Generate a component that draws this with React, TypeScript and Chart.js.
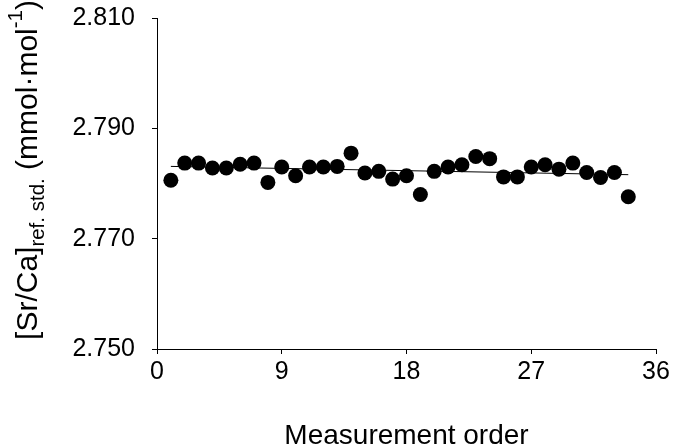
import React, { useEffect, useRef } from "react";
import { Chart, registerables } from "chart.js";

Chart.register(...registerables);

const measurementOrder = [
  1, 2, 3, 4, 5, 6, 7, 8, 9, 10, 11, 12, 13, 14, 15, 16, 17,
  18, 19, 20, 21, 22, 23, 24, 25, 26, 27, 28, 29, 30, 31, 32, 33, 34,
];
const srCaValues = [
  2.7806, 2.7837, 2.7837, 2.7828, 2.7828, 2.7835, 2.7837, 2.7802, 2.783,
  2.7814, 2.783, 2.783, 2.7831, 2.7855, 2.7819, 2.7822, 2.7808, 2.7814,
  2.778, 2.7822, 2.783, 2.7834, 2.7849, 2.7845, 2.7812, 2.7812, 2.783,
  2.7834, 2.7826, 2.7837, 2.782, 2.7811, 2.782, 2.7776,
];
const trendOrder = [1, 34];
const trendValues = [2.7831, 2.7816];
const yTickValues = [2.75, 2.77, 2.79, 2.81];
const xTickValues = [0, 9, 18, 27, 36];

const xTitle = "Measurement order";
const yTitleMain = "[Sr/Ca]";
const yTitleSub = "ref. std.";
const yTitleUnit = " (mmol·mol";
const yTitleSup = "-1";
const yTitleClose = ")";

const FONT = '"Liberation Sans", Arial, Helvetica, sans-serif';

const titlePlugin = {
  id: "axisTitles",
  afterDraw(chart: any) {
    const ctx = chart.ctx as CanvasRenderingContext2D;
    const area = chart.chartArea;
    ctx.save();
    ctx.fillStyle = "#000";
    ctx.textBaseline = "alphabetic";
    ctx.textAlign = "center";
    ctx.font = `28px ${FONT}`;
    ctx.fillText(xTitle, (area.left + area.right) / 2, 444);

    const mainF = `30px ${FONT}`;
    const smallF = `20.5px ${FONT}`;
    const segs: { t: string; f: string; dy: number; w?: number }[] = [
      { t: yTitleMain, f: mainF, dy: 0 },
      { t: yTitleSub, f: smallF, dy: 7 },
      { t: yTitleUnit, f: mainF, dy: 0 },
      { t: yTitleSup, f: smallF, dy: -15 },
      { t: yTitleClose, f: mainF, dy: 0 },
    ];
    let total = 0;
    for (const s of segs) {
      ctx.font = s.f;
      s.w = ctx.measureText(s.t).width;
      total += s.w;
    }
    ctx.translate(37, 170);
    ctx.rotate(-Math.PI / 2);
    ctx.textAlign = "left";
    let x = -total / 2;
    for (const s of segs) {
      ctx.font = s.f;
      ctx.fillText(s.t, x, s.dy);
      x += s.w as number;
    }
    ctx.restore();
  },
};

export default function App() {
  const ref = useRef<HTMLCanvasElement | null>(null);

  useEffect(() => {
    if (!ref.current) return;
    const chart = new Chart(ref.current, {
      type: "scatter",
      data: {
        datasets: [
          {
            data: trendOrder.map((x, i) => ({ x, y: trendValues[i] })),
            showLine: true,
            borderColor: "#000",
            borderWidth: 1,
            pointRadius: 0,
            pointHoverRadius: 0,
            fill: false,
            order: 1,
          } as any,
          {
            data: measurementOrder.map((x, i) => ({ x, y: srCaValues[i] })),
            pointRadius: 7.5,
            pointHoverRadius: 7.5,
            backgroundColor: "#000",
            borderColor: "#000",
            borderWidth: 0,
            order: 0,
          } as any,
        ],
      },
      options: {
        responsive: false,
        animation: false,
        events: [],
        layout: { padding: { left: 0, top: 18, right: 17, bottom: 0 } },
        plugins: {
          legend: { display: false },
          tooltip: { enabled: false },
          title: { display: false },
        },
        scales: {
          x: {
            type: "linear",
            min: 0,
            max: 36,
            afterBuildTicks: (s: any) => {
              s.ticks = xTickValues.map((v) => ({ value: v }));
            },
            afterFit: (s: any) => {
              s.height = 99;
              s.paddingLeft = 0;
              s.paddingRight = 0;
            },
            grid: {
              drawOnChartArea: false,
              drawTicks: true,
              tickLength: 5,
              color: "#000",
              lineWidth: 1,
            },
            border: { display: true, color: "#000", width: 1 },
            ticks: {
              color: "#000",
              font: { family: FONT, size: 25 },
              padding: 3,
              maxRotation: 0,
              autoSkip: false,
              callback: (v: any) => String(v),
            },
          },
          y: {
            type: "linear",
            min: 2.75,
            max: 2.81,
            afterBuildTicks: (s: any) => {
              s.ticks = yTickValues.map((v) => ({ value: v }));
            },
            afterFit: (s: any) => {
              s.width = 157;
              s.paddingTop = 0;
              s.paddingBottom = 0;
            },
            grid: {
              drawOnChartArea: false,
              drawTicks: true,
              tickLength: 5,
              color: "#000",
              lineWidth: 1,
            },
            border: { display: true, color: "#000", width: 1 },
            ticks: {
              color: "#000",
              font: { family: FONT, size: 25 },
              padding: 17,
              autoSkip: false,
              callback: (v: any) => Number(v).toFixed(3),
            },
          },
        },
      } as any,
      plugins: [titlePlugin],
    });
    return () => chart.destroy();
  }, []);

  return (
    <div style={{ position: "fixed", left: 0, top: 0, width: 673, height: 448 }}>
      <canvas ref={ref} width={673} height={448} style={{ display: "block" }} />
    </div>
  );
}
